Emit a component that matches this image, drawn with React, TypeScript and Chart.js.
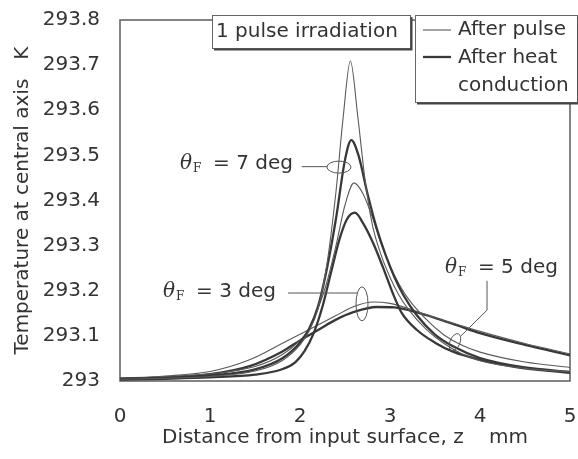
import React, { useEffect, useRef } from 'react';
import { Chart, registerables } from 'chart.js';

Chart.register(...registerables);

const FONT = '"DejaVu Sans", sans-serif';
const TEXT = '#333333';

const xTickValues = [0, 1, 2, 3, 4, 5];
const yTickValues = [293, 293.1, 293.2, 293.3, 293.4, 293.5, 293.6, 293.7, 293.8];
const yTickLabels = ['293', '293.1', '293.2', '293.3', '293.4', '293.5', '293.6', '293.7', '293.8'];

const xTitle = 'Distance from input surface, z    mm';
const yTitle = 'Temperature at central axis   K';
const boxTitle = '1 pulse irradiation';
const legendLabels = ['After pulse', 'After heat', 'conduction'];
const seriesLabels = ['= 7 deg', '= 5 deg', '= 3 deg'];

// theta_F = 7 deg, after pulse
const z7Pulse = [0, 0.5, 1, 1.5, 1.8, 2, 2.1, 2.2, 2.3, 2.4, 2.48, 2.56, 2.64, 2.72, 2.8, 2.9, 3, 3.1, 3.2, 3.4, 3.6, 3.8, 4, 4.5, 5];
const t7Pulse = [293.004, 293.006, 293.01, 293.022, 293.045, 293.08, 293.11, 293.16, 293.26, 293.42, 293.585, 293.709, 293.59, 293.45, 293.35, 293.28, 293.23, 293.19, 293.16, 293.115, 293.083, 293.06, 293.045, 293.028, 293.02];
// theta_F = 7 deg, after heat conduction
const z7Heat = [0, 0.5, 1, 1.5, 1.8, 2, 2.1, 2.2, 2.3, 2.4, 2.5, 2.57, 2.65, 2.75, 2.85, 2.95, 3.05, 3.15, 3.3, 3.5, 3.7, 4, 4.5, 5];
const t7Heat = [293.005, 293.007, 293.012, 293.026, 293.05, 293.085, 293.115, 293.165, 293.25, 293.36, 293.49, 293.534, 293.5, 293.415, 293.34, 293.28, 293.23, 293.19, 293.145, 293.103, 293.077, 293.051, 293.03, 293.02];
// theta_F = 5 deg, after pulse
const z5Pulse = [0, 0.5, 1, 1.5, 1.8, 2, 2.1, 2.2, 2.3, 2.4, 2.5, 2.6, 2.7, 2.8, 2.9, 3, 3.1, 3.2, 3.4, 3.6, 3.8, 4, 4.5, 5];
const t5Pulse = [293.006, 293.009, 293.016, 293.032, 293.058, 293.09, 293.115, 293.16, 293.22, 293.3, 293.39, 293.439, 293.415, 293.365, 293.305, 293.255, 293.215, 293.183, 293.137, 293.102, 293.079, 293.064, 293.042, 293.03];
// theta_F = 5 deg, after heat conduction
const z5Heat = [0, 0.5, 1, 1.5, 1.8, 1.95, 2.05, 2.15, 2.25, 2.35, 2.44, 2.52, 2.61, 2.7, 2.81, 2.92, 3.03, 3.13, 3.3, 3.5, 3.7, 4, 4.4, 5];
const t5Heat = [293.003, 293.005, 293.008, 293.014, 293.026, 293.042, 293.066, 293.105, 293.165, 293.245, 293.315, 293.358, 293.373, 293.35, 293.307, 293.253, 293.195, 293.151, 293.113, 293.085, 293.065, 293.047, 293.031, 293.018];
// theta_F = 3 deg, after pulse
const z3Pulse = [0, 0.5, 1, 1.44, 1.81, 2.14, 2.4, 2.6, 2.81, 3, 3.26, 3.5, 3.75, 4, 4.5, 5];
const t3Pulse = [293.006, 293.011, 293.021, 293.047, 293.084, 293.118, 293.145, 293.165, 293.175, 293.172, 293.157, 293.14, 293.125, 293.11, 293.083, 293.06];
// theta_F = 3 deg, after heat conduction
const z3Heat = [0, 0.5, 1, 1.44, 1.8, 2, 2.2, 2.4, 2.6, 2.85, 3.05, 3.3, 3.5, 3.75, 4, 4.5, 5];
const t3Heat = [293.004, 293.008, 293.015, 293.033, 293.065, 293.09, 293.113, 293.136, 293.153, 293.164, 293.163, 293.152, 293.14, 293.123, 293.106, 293.08, 293.057];

const THIN = { borderColor: '#5a5a5a', borderWidth: 1.1 };
const THICK = { borderColor: '#383838', borderWidth: 2.3 };

function pts(z: number[], t: number[]) {
  return z.map((x, i) => ({ x, y: t[i] }));
}

function drawThetaLabel(ctx: CanvasRenderingContext2D, x: number, y: number, rest: string) {
  ctx.textBaseline = 'middle';
  ctx.textAlign = 'left';
  ctx.fillStyle = TEXT;
  ctx.font = 'italic 20px "DejaVu Serif", serif';
  ctx.fillText('θ', x, y);
  ctx.font = '12px "DejaVu Serif", serif';
  ctx.fillText('F', x + 13, y + 5);
  ctx.font = '20px ' + FONT;
  ctx.fillText(rest, x + 33, y);
}

function drawBox(ctx: CanvasRenderingContext2D, x: number, y: number, w: number, h: number) {
  ctx.fillStyle = '#ffffff';
  ctx.fillRect(x, y, w, h);
  ctx.strokeStyle = '#666';
  ctx.lineWidth = 1;
  ctx.strokeRect(x + 0.5, y + 0.5, w, h);
  ctx.strokeStyle = '#444';
  ctx.lineWidth = 2;
  ctx.beginPath();
  ctx.moveTo(x + 2, y + h + 1.5);
  ctx.lineTo(x + w + 1.5, y + h + 1.5);
  ctx.lineTo(x + w + 1.5, y + 2);
  ctx.stroke();
}

const overlay = {
  id: 'overlay',
  beforeDatasetsDraw(chart: any) {
    const { ctx, chartArea: a } = chart;
    ctx.save();
    ctx.strokeStyle = '#666';
    ctx.lineWidth = 1.6;
    ctx.strokeRect(a.left, a.top, a.right - a.left, a.bottom - a.top);
    ctx.restore();
  },
  afterDraw(chart: any) {
    const { ctx, chartArea: a } = chart;
    const xs = chart.scales.x;
    const ys = chart.scales.y;
    const px = (v: number) => xs.getPixelForValue(v);
    const py = (v: number) => ys.getPixelForValue(v);
    ctx.save();

    // title box
    const tbx = a.left + 92;
    const tby = a.top - 5;
    drawBox(ctx, tbx, tby, 198, 33);
    ctx.fillStyle = TEXT;
    ctx.font = '20px ' + FONT;
    ctx.textBaseline = 'middle';
    ctx.textAlign = 'left';
    ctx.fillText(boxTitle, tbx + 4, tby + 17);

    // legend box
    const lbx = a.left + 295;
    const lby = a.top - 5;
    drawBox(ctx, lbx, lby, 162, 87);
    ctx.strokeStyle = THIN.borderColor;
    ctx.lineWidth = THIN.borderWidth;
    ctx.beginPath();
    ctx.moveTo(lbx + 8, lby + 15);
    ctx.lineTo(lbx + 36, lby + 15);
    ctx.stroke();
    ctx.strokeStyle = THICK.borderColor;
    ctx.lineWidth = THICK.borderWidth;
    ctx.beginPath();
    ctx.moveTo(lbx + 8, lby + 42);
    ctx.lineTo(lbx + 36, lby + 42);
    ctx.stroke();
    ctx.fillStyle = TEXT;
    ctx.font = '20px ' + FONT;
    ctx.fillText(legendLabels[0], lbx + 43, lby + 15);
    ctx.fillText(legendLabels[1], lbx + 43, lby + 43);
    ctx.fillText(legendLabels[2], lbx + 43, lby + 71);

    ctx.strokeStyle = '#555';
    ctx.lineWidth = 1;

    // 7 deg label
    drawThetaLabel(ctx, px(0.667), py(293.481), seriesLabels[0]);
    ctx.beginPath();
    ctx.moveTo(px(2.02), py(293.475));
    ctx.lineTo(px(2.3), py(293.475));
    ctx.stroke();
    ctx.beginPath();
    ctx.ellipse(px(2.433), py(293.474), 12, 6, 0, 0, Math.PI * 2);
    ctx.stroke();

    // 3 deg label
    drawThetaLabel(ctx, px(0.478), py(293.197), seriesLabels[2]);
    ctx.beginPath();
    ctx.moveTo(px(1.867), py(293.195));
    ctx.lineTo(px(2.633), py(293.195));
    ctx.stroke();
    ctx.beginPath();
    ctx.ellipse(px(2.689), py(293.171), 6, 17, 0, 0, Math.PI * 2);
    ctx.stroke();

    // 5 deg label
    drawThetaLabel(ctx, px(3.611), py(293.25), seriesLabels[1]);
    ctx.beginPath();
    ctx.moveTo(px(4.078), py(293.222));
    ctx.lineTo(px(4.078), py(293.157));
    ctx.lineTo(px(3.789), py(293.1));
    ctx.stroke();
    ctx.beginPath();
    ctx.ellipse(px(3.722), py(293.086), 5, 9, 0.4, 0, Math.PI * 2);
    ctx.stroke();

    ctx.restore();
  },
};

export default function App() {
  const ref = useRef<HTMLCanvasElement | null>(null);

  useEffect(() => {
    if (!ref.current) return;
    const datasets = [
      { label: '7 deg after pulse', data: pts(z7Pulse, t7Pulse), ...THIN },
      { label: '7 deg after heat conduction', data: pts(z7Heat, t7Heat), ...THICK },
      { label: '5 deg after pulse', data: pts(z5Pulse, t5Pulse), ...THIN },
      { label: '5 deg after heat conduction', data: pts(z5Heat, t5Heat), ...THICK },
      { label: '3 deg after pulse', data: pts(z3Pulse, t3Pulse), ...THIN },
      { label: '3 deg after heat conduction', data: pts(z3Heat, t3Heat), ...THICK },
    ];
    const chart = new Chart(ref.current, {
      type: 'line',
      data: { datasets: datasets as any },
      options: {
        animation: false,
        responsive: false,
        layout: { padding: { left: 0, right: 8, top: 20, bottom: 0 } },
        plugins: { legend: { display: false }, tooltip: { enabled: false } },
        elements: {
          point: { radius: 0 },
          line: { cubicInterpolationMode: 'monotone', fill: false },
        },
        scales: {
          x: {
            type: 'linear',
            min: 0,
            max: 5,
            afterBuildTicks: (s: any) => {
              s.ticks = xTickValues.map((v) => ({ value: v }));
            },
            afterFit: (s: any) => {
              s.height = 78;
              s.paddingLeft = 0;
              s.paddingRight = 0;
            },
            grid: { display: false, drawTicks: false },
            border: { display: false },
            ticks: {
              font: { family: FONT, size: 20 },
              color: TEXT,
              padding: 24,
              maxRotation: 0,
              autoSkip: false,
              callback: (v: any) => String(v),
            },
            title: {
              display: true,
              text: xTitle,
              font: { family: FONT, size: 20 },
              color: TEXT,
              padding: { top: 0, bottom: 9 },
            },
          },
          y: {
            type: 'linear',
            min: 293,
            max: 293.8,
            afterBuildTicks: (s: any) => {
              s.ticks = yTickValues.map((v) => ({ value: v }));
            },
            afterFit: (s: any) => {
              s.width = 120;
              s.paddingTop = 0;
              s.paddingBottom = 0;
            },
            grid: { display: false, drawTicks: false },
            border: { display: false },
            ticks: {
              font: { family: FONT, size: 20 },
              color: TEXT,
              padding: 20,
              autoSkip: false,
              callback: (v: any) => {
                const i = yTickValues.findIndex((t) => Math.abs(t - Number(v)) < 1e-6);
                return i >= 0 ? yTickLabels[i] : '';
              },
            },
            title: {
              display: true,
              text: yTitle,
              font: { family: FONT, size: 20 },
              color: TEXT,
              padding: { top: 11, bottom: 0 },
            },
          },
        },
      },
      plugins: [overlay as any],
    });
    return () => chart.destroy();
  }, []);

  return (
    <div style={{ position: 'absolute', left: 0, top: 0, width: 578, height: 459, background: '#fff' }}>
      <canvas ref={ref} width={578} height={459} style={{ display: 'block' }} />
    </div>
  );
}
